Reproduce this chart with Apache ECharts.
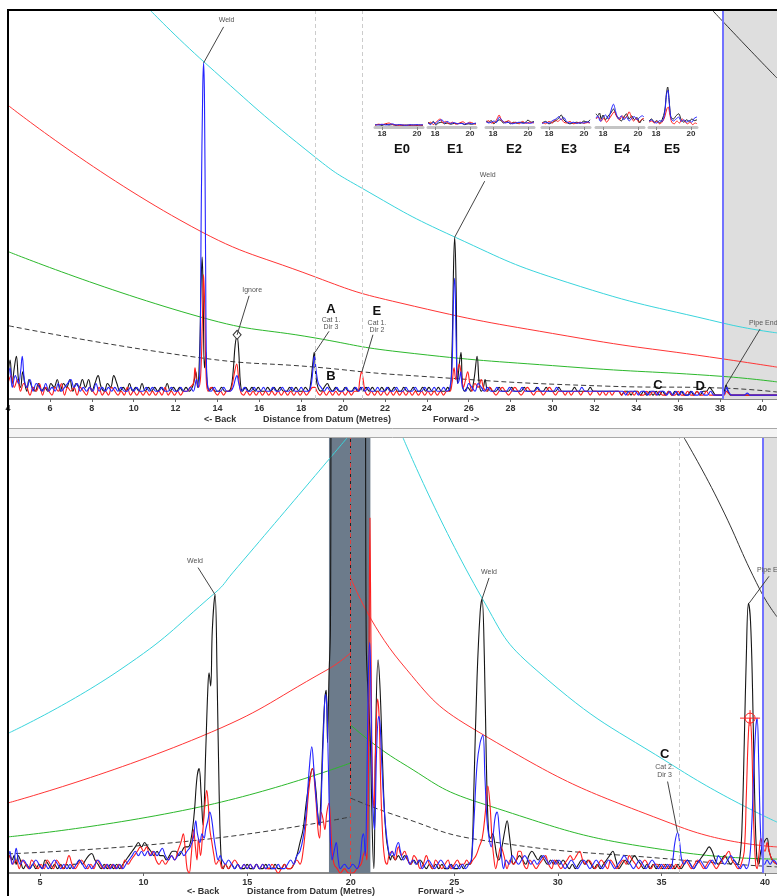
<!DOCTYPE html>
<html><head><meta charset="utf-8">
<script src="https://cdn.jsdelivr.net/npm/echarts@6/dist/echarts.min.js"></script>
<style>html,body{margin:0;padding:0;background:#fff}#c{width:777px;height:896px}</style>
</head><body><div id="c"></div>
<script>
// ---------- tick labels ----------
const topTicks = [4,6,8,10,12,14,16,18,20,22,24,26,28,30,32,34,36,38,40];
const botTicks = [5,10,15,20,25,30,35,40];
const insetTicks = [18,20];
const insetNames = ['E0','E1','E2','E3','E4','E5'];

// ---------- top panel: threshold curves (distance m, amplitude %) ----------
const topCyanDac = [[10.78,100],[13.41,86.4],[18.66,62.2],[20.9,54.2],[25.35,41.6],[30.7,30],[38.15,19.5],[40.72,17]];
const topRedDac = [[4.05,75.3],[12.21,46],[18.66,31.4],[22.72,24.7],[30.7,16.2],[38.15,10.3],[40.72,8.2]];
const topGreenDac = [[4.05,37.8],[13.17,21.1],[18.66,15.7],[22.72,12.1],[30.7,8.3],[38.15,5.8],[40.72,4.4]];
const topDashDac = [[4.05,18.8],[13.17,10.6],[18.66,8.2],[22.72,6.2],[32.6,3.3],[38.15,2.8],[40.72,1.8]];
const topBlackDac = [[37.62,100],[39.2,91],[40.72,82.5]];

// ---------- top panel: signals ----------
const topBlack = [[4.0,6],[4.1,10],[4.2,4],[4.3,8],[4.4,11],[4.5,5],[4.6,3],[4.7,7],[4.8,4],[4.9,2],[5.0,5],[5.15,3],[5.3,2],[5.45,4],[5.6,2],[5.75,3],[5.9,2],[6.05,4],[6.2,3],[6.35,5],[6.5,2],[6.65,4],[6.8,3],[6.95,5],[7.1,2],[7.25,4],[7.4,3],[7.55,5],[7.7,3],[7.85,5],[8.0,2],[8.15,4],[8.3,6],[8.45,3],[8.6,2],[8.75,4],[8.9,3],[9.05,6],[9.2,4],[9.35,2],[9.5,3],[9.65,2],[9.8,4],[9.95,2],[10.1,3],[10.25,2],[10.4,4],[10.55,2],[10.7,3],[10.85,2],[11.0,3],[11.15,2],[11.3,3],[11.45,2],[11.6,4],[11.75,2],[11.9,3],[12.05,2],[12.2,3],[12.35,2],[12.5,3],[12.65,2],[12.8,3],[12.9,5],[12.97,7],[13.05,3],[13.15,12],[13.22,30],[13.27,36.5],[13.32,26],[13.38,8],[13.45,12],[13.5,5],[13.6,2],[13.75,3],[13.9,2],[14.05,2],[14.2,3],[14.35,2],[14.5,2],[14.65,3],[14.75,7],[14.85,14],[14.94,16],[15.02,12],[15.1,4],[15.2,2],[15.35,3],[15.5,2],[15.65,3],[15.8,2],[15.95,3],[16.1,2],[16.25,2],[16.4,3],[16.55,2],[16.7,3],[16.85,2],[17.0,3],[17.15,2],[17.3,2],[17.45,3],[17.6,2],[17.75,3],[17.9,2],[18.05,2],[18.2,3],[18.35,2],[18.45,4],[18.55,9],[18.62,12],[18.7,6],[18.8,3],[18.95,2],[19.1,3],[19.25,4],[19.35,3],[19.5,2],[19.65,3],[19.8,2],[19.95,2],[20.1,3],[20.25,2],[20.4,2],[20.55,3],[20.7,2],[20.85,3],[20.95,2],[21.1,3],[21.25,2],[21.4,3],[21.55,2],[21.7,2],[21.85,3],[22.0,2],[22.15,3],[22.3,2],[22.45,3],[22.6,2],[22.75,2],[22.9,3],[23.05,2],[23.2,2],[23.35,3],[23.5,2],[23.65,2],[23.8,3],[23.95,2],[24.1,3],[24.25,2],[24.4,2],[24.55,3],[24.7,2],[24.85,2],[25.0,3],[25.1,2],[25.2,12],[25.28,35],[25.33,41.6],[25.4,28],[25.46,4],[25.55,9],[25.63,12],[25.7,4],[25.8,2],[25.95,3],[26.1,2],[26.25,5],[26.4,11],[26.5,4],[26.6,2],[26.7,3],[26.78,5],[26.9,2],[27.0,3],[27.15,2],[27.3,2],[27.45,3],[27.6,2],[27.75,2],[27.9,2],[28.05,3],[28.2,2],[28.35,2],[28.5,2],[28.65,3],[28.8,2],[28.95,2],[29.1,2],[29.25,3],[29.4,2],[29.55,2],[29.7,3],[29.85,2],[30.0,2],[30.15,2],[30.3,3],[30.45,2],[30.6,2],[30.75,2],[30.9,2],[31.05,3],[31.2,2],[31.35,2],[31.5,2],[31.65,2],[31.8,3],[31.95,2],[32.1,2],[32.25,2],[32.4,2],[32.55,2],[32.7,2],[32.85,2],[33.0,2],[33.15,2],[33.3,1],[33.45,2],[33.6,2],[33.75,1],[33.9,2],[34.05,2],[34.2,1],[34.35,2],[34.5,1],[34.65,2],[34.8,1],[34.95,2],[35.1,1],[35.25,2],[35.4,1],[35.55,2],[35.7,1],[35.85,2],[36.0,1],[36.15,2],[36.3,1],[36.45,1],[36.6,2],[36.75,1],[36.9,2],[37.05,1],[37.2,2],[37.35,2],[37.5,3],[37.65,2],[37.8,1],[37.95,1],[38.1,1],[38.2,2],[38.29,3.6],[38.38,2],[38.5,1],[38.65,1],[38.8,1],[38.95,1],[39.1,1],[39.25,1],[39.4,1],[39.55,1],[39.7,1],[39.85,1],[40.0,1],[40.15,1],[40.3,1],[40.5,1],[40.72,1]];
const topRed = [[4.0,4],[4.15,6],[4.3,3],[4.45,5],[4.6,2],[4.75,4],[4.9,3],[5.05,1],[5.2,3],[5.35,2],[5.5,4],[5.65,1],[5.8,3],[5.95,2],[6.1,1],[6.25,3],[6.4,2],[6.55,4],[6.7,1],[6.85,3],[7.0,2],[7.15,3],[7.3,1],[7.45,3],[7.6,2],[7.75,1],[7.9,3],[8.05,2],[8.2,1],[8.35,3],[8.5,1],[8.65,2],[8.8,1],[8.95,3],[9.1,2],[9.25,1],[9.4,2],[9.55,1],[9.7,3],[9.85,1],[10.0,2],[10.15,1],[10.3,2],[10.45,1],[10.6,2],[10.75,1],[10.9,2],[11.05,1],[11.2,2],[11.35,1],[11.5,3],[11.65,1],[11.8,2],[11.95,1],[12.1,2],[12.25,1],[12.4,2],[12.55,2],[12.7,3],[12.85,4],[12.93,8],[13.0,5],[13.1,3],[13.2,6],[13.28,20],[13.34,32],[13.4,22],[13.46,6],[13.55,2],[13.7,3],[13.85,2],[14.0,1],[14.15,2],[14.3,1],[14.45,2],[14.6,2],[14.72,4],[14.82,7],[14.92,9],[15.0,6],[15.1,2],[15.25,1],[15.4,2],[15.55,1],[15.7,2],[15.85,1],[16.0,2],[16.15,1],[16.3,2],[16.45,1],[16.6,2],[16.75,1],[16.9,2],[17.05,1],[17.2,2],[17.35,1],[17.5,2],[17.65,1],[17.8,2],[17.95,1],[18.1,2],[18.25,1],[18.4,2],[18.55,3],[18.65,3],[18.75,2],[18.9,1],[19.05,2],[19.2,1],[19.35,2],[19.5,1],[19.65,2],[19.8,1],[19.95,2],[20.1,1],[20.25,2],[20.4,1],[20.55,2],[20.7,2],[20.8,5],[20.88,7],[20.96,5],[21.05,2],[21.2,1],[21.35,2],[21.5,1],[21.65,2],[21.8,1],[21.95,2],[22.1,1],[22.25,2],[22.4,1],[22.55,2],[22.7,1],[22.85,2],[23.0,1],[23.15,2],[23.3,1],[23.45,2],[23.6,1],[23.75,2],[23.9,1],[24.05,2],[24.2,1],[24.35,2],[24.5,1],[24.65,2],[24.8,1],[24.95,2],[25.1,2],[25.2,4],[25.3,8],[25.38,5],[25.46,7],[25.55,9],[25.65,6],[25.75,3],[25.85,5],[25.95,7],[26.05,4],[26.15,2],[26.3,4],[26.45,3],[26.6,5],[26.7,3],[26.85,2],[27.0,3],[27.15,2],[27.3,1],[27.45,2],[27.6,3],[27.75,2],[27.9,1],[28.05,2],[28.2,3],[28.35,2],[28.5,1],[28.65,2],[28.8,3],[28.95,2],[29.1,1],[29.25,2],[29.4,2],[29.55,1],[29.7,2],[29.85,3],[30.0,2],[30.15,1],[30.3,2],[30.45,2],[30.6,1],[30.75,2],[30.9,1],[31.05,2],[31.2,2],[31.35,1],[31.5,2],[31.65,2],[31.8,1],[31.95,2],[32.1,2],[32.25,1],[32.4,2],[32.55,1],[32.7,2],[32.85,1],[33.0,2],[33.15,2],[33.3,1],[33.45,2],[33.6,1],[33.75,2],[33.9,1],[34.05,2],[34.2,1],[34.35,1],[34.5,2],[34.65,1],[34.8,2],[34.95,1],[35.1,2],[35.25,1],[35.4,1],[35.55,2],[35.7,1],[35.85,1],[36.0,2],[36.15,1],[36.3,1],[36.45,2],[36.6,1],[36.75,1],[36.9,2],[37.05,1],[37.2,1],[37.35,2],[37.5,1],[37.65,1],[37.8,1],[37.95,1],[38.1,1],[38.2,1],[38.3,2],[38.4,1.5],[38.55,1],[38.7,1],[38.85,1],[39.0,1],[39.2,1],[39.4,1],[39.6,1],[39.8,1],[40.0,1],[40.2,1],[40.4,1],[40.72,1]];
const topBlue = [[4.0,5],[4.1,8],[4.2,3],[4.35,6],[4.5,4],[4.6,7],[4.68,11],[4.78,5],[4.9,3],[5.05,5],[5.2,2],[5.35,4],[5.5,3],[5.65,2],[5.8,4],[5.95,2],[6.1,3],[6.25,2],[6.4,4],[6.55,2],[6.7,3],[6.85,4],[7.0,5],[7.15,3],[7.3,4],[7.45,2],[7.6,3],[7.75,2],[7.9,3],[8.05,2],[8.2,4],[8.35,2],[8.5,3],[8.65,2],[8.8,3],[8.95,2],[9.1,3],[9.25,2],[9.4,3],[9.55,2],[9.7,2],[9.85,3],[10.0,2],[10.15,3],[10.3,2],[10.45,2],[10.6,3],[10.75,2],[10.9,3],[11.05,2],[11.2,2],[11.35,3],[11.5,2],[11.65,2],[11.8,3],[11.95,2],[12.1,2],[12.25,3],[12.4,2],[12.55,2],[12.7,3],[12.85,2],[13.0,5],[13.08,3],[13.16,8],[13.23,50],[13.3,80],[13.34,86.4],[13.38,78],[13.43,40],[13.48,8],[13.55,3],[13.7,2],[13.85,3],[14.0,2],[14.15,2],[14.3,3],[14.45,2],[14.6,2],[14.75,3],[14.85,5],[14.93,6],[15.02,4],[15.15,2],[15.3,3],[15.45,2],[15.6,2],[15.75,3],[15.9,2],[16.05,2],[16.2,3],[16.35,2],[16.5,2],[16.65,3],[16.8,2],[16.95,2],[17.1,3],[17.25,2],[17.4,2],[17.55,3],[17.7,2],[17.85,2],[18.0,3],[18.15,2],[18.3,2],[18.45,3],[18.55,7],[18.63,11],[18.72,7],[18.82,4],[18.95,3],[19.1,2],[19.25,3],[19.4,2],[19.55,2],[19.7,3],[19.85,2],[20.0,2],[20.15,3],[20.3,2],[20.45,2],[20.6,3],[20.75,2],[20.9,3],[21.05,2],[21.2,3],[21.35,2],[21.5,2],[21.65,3],[21.8,2],[21.95,2],[22.1,3],[22.25,2],[22.4,2],[22.55,3],[22.7,2],[22.85,2],[23.0,3],[23.15,2],[23.3,2],[23.45,3],[23.6,2],[23.75,2],[23.9,3],[24.05,2],[24.2,2],[24.35,3],[24.5,2],[24.65,2],[24.8,3],[24.95,2],[25.1,3],[25.2,8],[25.27,25],[25.33,31],[25.4,15],[25.47,4],[25.55,5],[25.62,7],[25.7,3],[25.85,2],[26.0,4],[26.15,3],[26.3,2],[26.45,4],[26.6,3],[26.75,2],[26.9,3],[27.05,2],[27.2,2],[27.35,3],[27.5,2],[27.65,2],[27.8,2],[27.95,3],[28.1,2],[28.25,2],[28.4,2],[28.55,3],[28.7,2],[28.85,2],[29.0,2],[29.15,2],[29.3,3],[29.45,2],[29.6,2],[29.75,2],[29.9,2],[30.05,2],[30.2,3],[30.35,2],[30.5,2],[30.65,2],[30.8,2],[30.95,2],[31.1,2],[31.25,2],[31.4,3],[31.55,2],[31.7,2],[31.85,2],[32.0,2],[32.15,2],[32.3,2],[32.45,2],[32.6,2],[32.75,2],[32.9,2],[33.05,2],[33.2,2],[33.35,2],[33.5,1],[33.65,2],[33.8,2],[33.95,2],[34.1,1],[34.25,2],[34.4,2],[34.55,1],[34.7,2],[34.85,2],[35.0,1],[35.15,2],[35.3,2],[35.45,1],[35.6,2],[35.75,1],[35.9,2],[36.05,1],[36.2,2],[36.35,1],[36.5,1],[36.65,2],[36.8,1],[36.95,1],[37.1,2],[37.25,1],[37.4,1],[37.55,2],[37.7,1],[37.85,1],[38.0,1],[38.15,1],[38.25,2],[38.32,3],[38.4,2],[38.55,1],[38.7,1],[38.85,1],[39.0,1],[39.15,1],[39.3,1.5],[39.45,1],[39.6,1],[39.8,1],[40.0,1],[40.2,1],[40.4,1],[40.72,1]];

// ---------- bottom panel: threshold curves ----------
const botCyanL = [[3.5,32.2],[8.86,46.7],[13.45,64.4],[14.3,69],[19.82,100]];
const botCyanR = [[22.53,100],[26.34,63.2],[28.95,46.7],[35.9,23.7],[40.58,11.7]];
const botRedL = [[3.455,16.1],[12.73,31.3],[18.86,46.7],[20.0,50.6]];
const botRedR = [[20.0,67.8],[22.4,48.5],[26.25,32.2],[35.9,10.6],[40.58,6]];
const botGreenL = [[3.455,8.3],[12.73,15.2],[20.0,25.3]];
const botGreenR = [[20.0,34],[22.4,25.5],[26.25,16.1],[35.9,4.8],[40.58,3.2]];
const botDashL = [[3.455,4.4],[12.73,7.6],[20.0,12.9]];
const botDashR = [[20.0,17.2],[22.4,12.9],[26.25,7.6],[35.9,3],[40.58,1.4]];
const botBlackDac = [[36.1,100],[37.7,86],[39.77,65],[40.58,58.9]];

// ---------- bottom panel: signals ----------
const botBlack = [[3.45,3],[3.55,4],[3.65,3],[3.75,4],[3.85,2],[3.95,4],[4.05,3],[4.2,1],[4.35,2],[4.5,1],[4.65,2],[4.8,1],[4.95,2],[5.1,1],[5.25,3],[5.4,2],[5.55,1],[5.7,2],[5.85,1],[6.0,2],[6.15,1],[6.3,2],[6.45,1],[6.6,2],[6.75,2],[6.9,3],[7.05,2],[7.2,3],[7.35,4],[7.5,4.5],[7.65,3],[7.8,2],[7.95,1],[8.1,2],[8.25,1],[8.4,2],[8.55,1],[8.7,2],[8.85,1],[9.0,2],[9.15,3],[9.3,4],[9.45,5],[9.6,6],[9.75,7],[9.9,6],[10.05,7],[10.2,6],[10.35,5],[10.5,4],[10.65,5],[10.8,4],[10.95,4],[11.1,3],[11.25,4],[11.4,5],[11.55,5],[11.7,4],[11.85,5],[12.0,6],[12.15,6],[12.3,8],[12.45,14],[12.58,22],[12.68,24],[12.78,18],[12.87,11],[13.0,28],[13.1,42],[13.16,46],[13.24,43],[13.32,56],[13.45,64],[13.55,45],[13.65,18],[13.75,3],[13.85,1],[13.95,2],[14.1,1],[14.25,2],[14.4,1],[14.55,2],[14.7,1],[14.85,1],[15.0,2],[15.15,1],[15.3,1],[15.45,2],[15.6,1],[15.75,1],[15.9,2],[16.05,1],[16.2,1],[16.35,2],[16.5,1],[16.65,1],[16.8,2],[16.95,1],[17.1,1],[17.25,2],[17.4,4],[17.55,7],[17.7,10],[17.85,16],[18.0,21],[18.15,24],[18.3,20],[18.4,14],[18.47,11],[18.55,16],[18.65,30],[18.75,40],[18.82,42],[18.88,30],[18.95,45],[19.02,56],[19.08,130],[20.68,130],[20.75,53],[20.85,40],[20.95,30],[21.05,8],[21.12,1],[21.2,30],[21.32,49],[21.42,42],[21.52,28],[21.62,15],[21.72,8],[21.82,5],[21.92,3],[22.0,4],[22.15,3],[22.3,4],[22.45,3],[22.6,4],[22.75,3],[22.9,2],[23.05,3],[23.2,2],[23.35,3],[23.5,2],[23.65,1],[23.8,2],[23.95,1],[24.1,2],[24.25,1],[24.4,2],[24.55,1],[24.7,1],[24.85,2],[25.0,1],[25.15,1],[25.3,2],[25.45,1],[25.6,2],[25.75,2],[25.85,4],[25.95,20],[26.1,45],[26.25,60],[26.34,63],[26.45,50],[26.55,25],[26.65,10],[26.75,8],[26.85,9],[26.95,7],[27.05,4],[27.15,3],[27.3,6],[27.45,10],[27.55,12],[27.65,9],[27.75,5],[27.85,2],[28.0,3],[28.15,4],[28.3,3],[28.45,2],[28.6,4],[28.75,5],[28.9,4],[29.05,3],[29.2,4],[29.35,3],[29.5,2],[29.65,3],[29.8,2],[29.95,3],[30.1,2],[30.25,3],[30.4,2],[30.55,1],[30.7,2],[30.85,1],[31.0,2],[31.15,3],[31.3,2],[31.45,3],[31.6,2],[31.75,1],[31.9,2],[32.05,1],[32.2,2],[32.35,3],[32.5,4],[32.65,5],[32.8,3],[32.95,1],[33.1,2],[33.25,3],[33.4,2],[33.55,3],[33.7,4],[33.85,3],[34.0,2],[34.15,1],[34.3,2],[34.45,1],[34.6,2],[34.75,1],[34.9,2],[35.05,1],[35.2,2],[35.35,1],[35.5,2],[35.65,1],[35.8,2],[35.95,1],[36.1,2],[36.25,3],[36.4,2],[36.55,1],[36.7,2],[36.85,3],[37.0,4],[37.15,5],[37.3,6],[37.45,5],[37.6,3],[37.75,2],[37.9,3],[38.05,4],[38.2,3],[38.35,2],[38.5,3],[38.65,2],[38.8,4],[38.9,12],[39.0,30],[39.1,50],[39.2,62],[39.3,58],[39.4,42],[39.5,18],[39.6,4],[39.7,2],[39.8,5],[39.95,7],[40.1,8],[40.2,5],[40.35,3],[40.58,2]];
const botRed = [[3.45,2],[3.55,4],[3.7,2],[3.85,3],[4.0,1],[4.15,3],[4.3,2],[4.45,1],[4.6,3],[4.75,2],[4.9,1],[5.05,2],[5.2,1],[5.35,3],[5.5,2],[5.65,1],[5.8,3],[5.95,2],[6.1,1],[6.25,2],[6.4,4],[6.55,2],[6.7,1],[6.85,2],[7.0,3],[7.15,2],[7.3,1],[7.45,2],[7.6,1],[7.75,3],[7.9,2],[8.05,1],[8.2,2],[8.35,1],[8.5,2],[8.65,1],[8.8,2],[8.95,1],[9.1,3],[9.25,2],[9.4,3],[9.55,4],[9.7,5],[9.85,6],[10.0,5],[10.15,6],[10.3,4],[10.45,5],[10.6,3],[10.75,2],[10.9,3],[11.05,2],[11.2,3],[11.35,4],[11.5,3],[11.65,5],[11.8,7],[11.92,9],[12.0,6],[12.1,1],[12.2,0],[12.3,4],[12.42,10],[12.5,6],[12.58,3],[12.65,8],[12.75,4],[12.85,9],[12.95,15],[13.05,19],[13.12,16],[13.2,10],[13.3,7],[13.4,4],[13.5,2],[13.65,3],[13.8,1],[13.95,2],[14.1,1],[14.25,2],[14.4,3],[14.55,2],[14.7,1],[14.85,2],[15.0,1],[15.15,2],[15.3,1],[15.45,2],[15.6,1],[15.75,2],[15.9,1],[16.05,1],[16.2,2],[16.35,1],[16.5,0],[16.65,1],[16.8,2],[16.95,1],[17.1,1],[17.25,2],[17.4,3],[17.55,2],[17.7,5],[17.85,12],[18.0,20],[18.15,24],[18.3,18],[18.42,10],[18.5,8],[18.58,14],[18.68,12],[18.75,10],[18.85,14],[18.95,16],[19.02,12],[19.1,5],[19.2,2],[19.35,1],[19.5,0],[19.7,1],[19.9,0],[20.1,0],[20.3,1],[20.5,2],[20.6,4],[20.7,5],[20.78,3],[20.85,20],[20.93,81.6],[21.0,40],[21.06,20],[21.12,15],[21.2,28],[21.3,40],[21.38,35],[21.45,20],[21.55,8],[21.65,3],[21.75,2],[21.85,4],[22.0,5],[22.15,3],[22.3,6],[22.45,4],[22.6,5],[22.75,3],[22.9,2],[23.05,4],[23.2,3],[23.35,1],[23.5,2],[23.65,4],[23.8,2],[23.95,1],[24.1,3],[24.25,2],[24.4,1],[24.55,2],[24.7,3],[24.85,1],[25.0,2],[25.15,3],[25.3,2],[25.45,2],[25.6,3],[25.75,2],[25.9,3],[26.05,4],[26.2,6],[26.35,8],[26.5,14],[26.62,20],[26.72,16],[26.82,8],[26.92,3],[27.0,1],[27.1,3],[27.25,6],[27.4,4],[27.55,1],[27.7,3],[27.85,2],[28.0,3],[28.1,5],[28.2,5],[28.35,2],[28.5,1],[28.65,3],[28.8,2],[28.95,1],[29.1,2],[29.25,3],[29.4,4],[29.55,2],[29.7,1],[29.85,3],[30.0,2],[30.15,1],[30.3,2],[30.45,3],[30.6,4],[30.75,3],[30.9,4],[31.05,5],[31.2,3],[31.35,2],[31.5,3],[31.65,2],[31.8,1],[31.95,2],[32.1,3],[32.25,2],[32.4,1],[32.55,3],[32.7,2],[32.85,1],[33.0,2],[33.15,3],[33.3,2],[33.45,4],[33.6,3],[33.75,2],[33.9,1],[34.05,2],[34.2,3],[34.35,2],[34.5,1],[34.65,2],[34.8,2],[34.95,1],[35.1,2],[35.25,1],[35.4,2],[35.55,1],[35.7,2],[35.85,1],[36.0,2],[36.15,3],[36.3,2],[36.45,1],[36.6,2],[36.75,3],[36.9,2],[37.05,1],[37.2,2],[37.35,3],[37.5,2],[37.65,1],[37.8,2],[37.95,3],[38.1,4],[38.25,5],[38.4,3],[38.55,2],[38.7,1],[38.85,2],[39.0,5],[39.1,18],[39.2,32],[39.28,35.6],[39.36,30],[39.45,12],[39.55,2],[39.62,1],[39.7,4],[39.8,8],[39.9,6],[40.0,5],[40.1,7],[40.2,5],[40.35,3],[40.58,2]];
const botBlue = [[3.45,3],[3.55,5],[3.65,2],[3.75,3],[3.85,5.7],[3.95,3],[4.05,2],[4.2,3],[4.35,2],[4.5,1],[4.65,2],[4.8,3],[4.95,2],[5.1,1],[5.25,2],[5.4,1],[5.55,2],[5.7,3],[5.85,2],[6.0,1],[6.15,2],[6.3,1],[6.45,2],[6.6,1],[6.75,2],[6.9,3],[7.05,2],[7.2,1],[7.35,2],[7.5,1],[7.65,2],[7.8,3],[7.95,2],[8.1,1],[8.25,2],[8.4,1],[8.55,2],[8.7,1],[8.85,2],[9.0,1],[9.15,2],[9.3,3],[9.45,4],[9.6,5],[9.75,4],[9.9,5],[10.05,4],[10.2,5],[10.35,4],[10.5,5],[10.65,4],[10.8,5],[10.9,5.7],[11.05,4],[11.2,3],[11.35,4],[11.5,3],[11.65,4],[11.8,5],[11.95,4],[12.1,5],[12.25,6],[12.4,8],[12.52,12],[12.6,9],[12.72,7],[12.82,9],[12.92,8],[13.0,10],[13.1,12],[13.2,14],[13.3,12],[13.4,8],[13.5,5],[13.6,3],[13.7,4],[13.8,3],[13.95,2],[14.1,3],[14.25,2],[14.4,1],[14.55,2],[14.7,1],[14.85,2],[15.0,1],[15.15,2],[15.3,1],[15.45,2],[15.6,1],[15.75,2],[15.9,1],[16.05,2],[16.2,1],[16.35,1],[16.5,2],[16.65,1],[16.8,1],[16.95,2],[17.1,3],[17.25,2],[17.4,4],[17.55,5],[17.7,8],[17.85,14],[18.0,24],[18.12,29],[18.22,24],[18.35,16],[18.45,12],[18.52,11],[18.6,20],[18.7,34],[18.78,41],[18.85,38],[18.92,25],[19.0,10],[19.1,3],[19.2,5],[19.3,7],[19.4,3],[19.5,1],[19.7,2],[19.9,1],[20.1,2],[20.3,1],[20.45,3],[20.55,8],[20.62,9],[20.7,4],[20.78,20],[20.85,45],[20.92,53],[20.98,40],[21.05,18],[21.15,10],[21.25,28],[21.35,36],[21.42,34],[21.5,25],[21.6,16],[21.7,10],[21.8,6],[21.9,4],[22.0,5],[22.1,4],[22.2,6],[22.3,7],[22.4,5],[22.55,3],[22.7,4],[22.85,2],[23.0,3],[23.15,2],[23.3,3],[23.45,1],[23.6,2],[23.75,3],[23.9,2],[24.05,1],[24.2,2],[24.35,3],[24.5,2],[24.65,1],[24.8,2],[24.95,1],[25.1,2],[25.25,1],[25.4,2],[25.55,1],[25.7,2],[25.82,3],[25.95,12],[26.1,25],[26.25,30],[26.38,31.7],[26.48,22],[26.58,12],[26.68,8],[26.78,6],[26.88,9],[26.98,13],[27.07,14],[27.17,10],[27.28,4],[27.38,1],[27.5,3],[27.65,2],[27.8,4],[27.95,3],[28.1,2],[28.25,3],[28.4,4],[28.55,3],[28.7,2],[28.85,3],[29.0,2],[29.15,3],[29.3,4],[29.45,3],[29.6,2],[29.75,3],[29.9,2],[30.05,3],[30.2,2],[30.35,1],[30.5,2],[30.65,3],[30.8,2],[30.95,1],[31.1,2],[31.25,3],[31.4,2],[31.55,1],[31.7,2],[31.85,3],[32.0,2],[32.15,1],[32.3,2],[32.45,3],[32.6,2],[32.75,1],[32.9,2],[33.05,3],[33.2,4],[33.35,3],[33.5,2],[33.65,1],[33.8,2],[33.95,3],[34.1,2],[34.25,1],[34.4,2],[34.55,3],[34.7,2],[34.85,1],[35.0,2],[35.15,1],[35.3,2],[35.45,1],[35.55,3],[35.65,7],[35.78,9.3],[35.88,7],[35.98,3],[36.1,2],[36.25,3],[36.4,2],[36.55,1],[36.7,2],[36.85,3],[37.0,2],[37.15,1],[37.3,2],[37.45,3],[37.6,2],[37.75,4],[37.9,3],[38.05,2],[38.2,3],[38.35,4],[38.5,3],[38.65,2],[38.8,1],[38.95,2],[39.1,1],[39.25,3],[39.35,10],[39.45,22],[39.55,33],[39.62,35.6],[39.7,25],[39.78,10],[39.88,3],[39.98,2],[40.1,3],[40.25,2],[40.4,3],[40.58,2]];

// ---------- inset traces (E0..E5), distance m / relative amplitude ----------
const e0Black = [[17.6,5],[17.8,6],[18.0,4],[18.2,7],[18.4,5],[18.6,6],[18.8,4],[19.0,5],[19.2,4],[19.4,5],[19.6,4],[19.8,5],[20.0,4],[20.2,5],[20.35,4]];
const e0Red = [[17.6,4],[17.8,7],[18.0,6],[18.2,8],[18.4,10],[18.6,6],[18.8,5],[19.0,4],[19.2,5],[19.4,4],[19.6,5],[19.8,4],[20.0,5],[20.2,4],[20.35,5]];
const e0Blue = [[17.6,6],[17.8,5],[18.0,7],[18.2,5],[18.4,6],[18.6,8],[18.8,5],[19.0,6],[19.2,5],[19.4,4],[19.6,6],[19.8,5],[20.0,6],[20.2,5],[20.35,6]];
const e1Black = [[17.6,12],[17.75,8],[17.9,14],[18.05,5],[18.2,10],[18.4,12],[18.55,8],[18.7,10],[18.9,7],[19.1,9],[19.3,8],[19.5,10],[19.7,6],[19.9,8],[20.1,7],[20.35,9]];
const e1Red = [[17.6,8],[17.75,12],[17.9,6],[18.1,14],[18.3,20],[18.45,10],[18.6,14],[18.8,8],[19.0,12],[19.2,7],[19.4,10],[19.6,13],[19.8,8],[20.0,12],[20.2,9],[20.35,6]];
const e1Blue = [[17.6,10],[17.75,6],[17.9,12],[18.05,8],[18.2,15],[18.4,18],[18.55,10],[18.7,14],[18.9,9],[19.1,11],[19.3,8],[19.5,9],[19.7,7],[19.9,10],[20.1,8],[20.35,10]];
const e2Black = [[17.6,15],[17.75,12],[17.9,16],[18.05,8],[18.2,14],[18.4,18],[18.6,10],[18.8,14],[19.0,8],[19.2,12],[19.4,9],[19.6,12],[19.8,10],[20.0,17],[20.2,12],[20.35,14]];
const e2Red = [[17.6,12],[17.75,16],[17.9,10],[18.1,12],[18.25,22],[18.35,30],[18.5,16],[18.7,12],[18.9,16],[19.1,9],[19.3,12],[19.5,8],[19.7,14],[19.9,9],[20.1,12],[20.35,10]];
const e2Blue = [[17.6,14],[17.75,10],[17.9,12],[18.05,15],[18.2,11],[18.35,24],[18.5,18],[18.7,10],[18.9,12],[19.1,8],[19.3,10],[19.5,12],[19.7,9],[19.9,11],[20.1,9],[20.35,12]];
const e3Black = [[17.6,10],[17.8,14],[18.0,8],[18.2,12],[18.4,16],[18.55,22],[18.7,30],[18.85,18],[19.0,12],[19.2,8],[19.4,10],[19.6,12],[19.8,9],[20.0,15],[20.2,12],[20.35,18]];
const e3Red = [[17.6,12],[17.8,8],[18.0,14],[18.2,10],[18.35,18],[18.5,14],[18.7,20],[18.85,12],[19.0,10],[19.2,14],[19.4,8],[19.6,10],[19.8,12],[20.0,9],[20.2,11],[20.35,10]];
const e3Blue = [[17.6,8],[17.8,12],[18.0,10],[18.2,16],[18.4,20],[18.55,26],[18.7,18],[18.85,24],[19.0,14],[19.2,10],[19.4,12],[19.6,9],[19.8,11],[20.0,10],[20.2,13],[20.35,11]];
const e4Black = [[17.6,33],[17.7,28],[17.8,35],[17.9,20],[18.0,30],[18.15,18],[18.3,28],[18.45,35],[18.6,45],[18.75,30],[18.9,22],[19.05,15],[19.2,25],[19.35,33],[19.5,20],[19.65,28],[19.8,18],[19.95,24],[20.1,10],[20.25,20],[20.35,15]];
const e4Red = [[17.6,20],[17.75,25],[17.9,15],[18.05,22],[18.2,12],[18.35,20],[18.5,30],[18.65,38],[18.8,25],[18.95,18],[19.1,28],[19.25,22],[19.4,30],[19.5,38],[19.6,28],[19.75,15],[19.9,22],[20.05,12],[20.2,18],[20.35,22]];
const e4Blue = [[17.6,22],[17.7,28],[17.85,14],[18.0,24],[18.15,30],[18.3,20],[18.45,40],[18.6,57],[18.75,35],[18.9,20],[19.05,28],[19.2,18],[19.35,25],[19.5,15],[19.65,22],[19.8,26],[19.95,18],[20.1,24],[20.25,28],[20.35,25]];
const e5Black = [[17.6,15],[17.75,20],[17.9,12],[18.05,16],[18.2,10],[18.35,18],[18.5,40],[18.6,85],[18.67,100],[18.75,70],[18.85,25],[19.0,20],[19.15,28],[19.3,33],[19.45,18],[19.6,12],[19.75,18],[19.9,14],[20.05,20],[20.2,16],[20.35,18]];
const e5Red = [[17.6,12],[17.75,15],[17.9,10],[18.05,14],[18.2,8],[18.35,12],[18.5,25],[18.62,45],[18.7,50],[18.8,30],[18.9,12],[19.05,8],[19.2,15],[19.35,10],[19.5,20],[19.65,14],[19.8,8],[19.95,12],[20.1,6],[20.25,10],[20.35,8]];
const e5Blue = [[17.6,14],[17.75,18],[17.9,12],[18.05,10],[18.2,16],[18.35,14],[18.5,35],[18.6,80],[18.68,92],[18.76,60],[18.86,22],[19.0,15],[19.15,20],[19.3,25],[19.45,14],[19.6,18],[19.75,12],[19.9,16],[20.05,12],[20.2,22],[20.35,25]];
const insetTraces = [[e0Black,e0Red,e0Blue],[e1Black,e1Red,e1Blue],[e2Black,e2Red,e2Blue],[e3Black,e3Red,e3Blue],[e4Black,e4Red,e4Blue],[e5Black,e5Red,e5Blue]];

// ---------- annotations ----------
const topNotes = [
  {at:[13.34,86.4], lines:[{t:'Weld',dx:23,dy:-43}], lead:[20,-36]},
  {at:[14.94,16.5], lines:[{t:'Ignore',dx:15,dy:-45}], lead:[12,-39]},
  {at:[18.66,12], lines:[{t:'A',dx:16,dy:-43,big:true},{t:'Cat 1.',dx:16,dy:-32},{t:'Dir 3',dx:16,dy:-25}], lead:[14,-21]},
  {at:[20.9,7], lines:[{t:'E',dx:15,dy:-60,big:true},{t:'Cat 1.',dx:15,dy:-49},{t:'Dir 2',dx:15,dy:-42}], lead:[11,-37]},
  {at:[25.33,41.6], lines:[{t:'Weld',dx:33,dy:-62}], lead:[30,-56]},
  {at:[38.29,3.6], lines:[{t:'Pipe End',dx:23,dy:-62,left:true}], lead:[34,-56]}
];
const topTags = [{t:'B',at:[19.42,5.9]},{t:'C',at:[35.04,3.6]},{t:'D',at:[37.05,3.3]}];
const botNotes = [
  {at:[13.45,64], lines:[{t:'Weld',dx:-20,dy:-34}], lead:[-17,-27]},
  {at:[26.34,63], lines:[{t:'Weld',dx:7,dy:-27}], lead:[7,-21]},
  {at:[35.78,9.3], lines:[{t:'C',dx:-13,dy:-78,big:true},{t:'Cat 2.',dx:-13,dy:-65},{t:'Dir 3',dx:-13,dy:-57}], lead:[-10,-51]},
  {at:[39.23,62], lines:[{t:'Pipe End',dx:8,dy:-33,left:true}], lead:[20,-27]}
];
const botCross = [39.28,35.6];

// ---------- build ----------
const FONT = '"Liberation Sans", Arial, sans-serif';
const chart = echarts.init(document.getElementById('c'), null, {renderer:'canvas'});

function ln(data, color, gi, extra) {
  return Object.assign({type:'line', data:data, xAxisIndex:gi, yAxisIndex:gi, symbol:'none', showSymbol:false,
    lineStyle:{color:color, width:1.1}, itemStyle:{color:color}, smooth:0.4, animation:false, silent:true}, extra||{});
}
function dac(data, color, gi, extra) {
  return ln(data, color, gi, Object.assign({smooth:0.5, lineStyle:{color:color, width:1}}, extra||{}));
}
const CY='#3ad4dc', RD='#ff3535', GR='#2cb82c', DS='#3a3a3a';
const SB='#161616', SR='#ff1e1e', SU='#2424ff';

const grids = [
  {left:8, top:10, width:769, height:389, outerBoundsMode:'none', containLabel:false},
  {left:8, top:438, width:769, height:435, outerBoundsMode:'none', containLabel:false}
];
const insetLefts = [375,428,486,542,596,649];
insetLefts.forEach(l => grids.push({left:l, top:87, width:48, height:40, outerBoundsMode:'none', containLabel:false}));

function mainX(gi, min, max, ticks, margin) {
  return {gridIndex:gi, type:'value', min:min, max:max,
    axisLine:{show:true, onZero:false, lineStyle:{color:'#666', width:1.5}},
    axisTick:{show:true, customValues:ticks, length:3, lineStyle:{color:'#666'}},
    axisLabel:{customValues:ticks, fontSize:9, fontWeight:'bold', color:'#333', margin:margin, fontFamily:FONT},
    splitLine:{show:false}};
}
const xAxes = [mainX(0,4,40.72,topTicks,5), mainX(1,3.455,40.58,botTicks,5)];
const yAxes = [{gridIndex:0,type:'value',min:0,max:100,show:false},{gridIndex:1,type:'value',min:0,max:100,show:false}];
insetLefts.forEach((l,i) => {
  xAxes.push({gridIndex:i+2, type:'value', min:17.6, max:20.35,
    axisLine:{show:true, onZero:false, lineStyle:{color:'#c4c4c4', width:3}},
    axisTick:{show:true, customValues:insetTicks, length:3, lineStyle:{color:'#888'}},
    axisLabel:{customValues:insetTicks, fontSize:8, fontWeight:'bold', color:'#333', margin:3, fontFamily:FONT},
    splitLine:{show:false}});
  yAxes.push({gridIndex:i+2,type:'value',min:0,max:100,show:false});
});

const series = [];
// top panel
series.push(dac(topCyanDac, CY, 0, {
  markArea:{silent:true, itemStyle:{color:'#dedede'}, data:[[{xAxis:38.15},{xAxis:40.72}]]},
  markLine:{silent:true, symbol:['none','none'], label:{show:false}, animation:false, data:[
    {xAxis:18.66, lineStyle:{color:'#cccccc', type:[4,3], width:1}},
    {xAxis:20.9, lineStyle:{color:'#cccccc', type:[4,3], width:1}},
    {xAxis:38.15, lineStyle:{color:'#7272ff', type:'solid', width:2}}
  ]}
}));
series.push(dac(topRedDac, RD, 0));
series.push(dac(topGreenDac, GR, 0));
series.push(dac(topDashDac, DS, 0, {lineStyle:{color:DS, width:1, type:[5,3]}}));
series.push(dac(topBlackDac, '#333', 0));
series.push(ln(topBlack, SB, 0, {markPoint:{silent:true, animation:false, symbol:'diamond', symbolSize:[8,9], label:{show:false},
  itemStyle:{color:'#fff', borderColor:'#333', borderWidth:1}, data:[{coord:[14.94,16.5]}]}}));
series.push(ln(topRed, SR, 0));
series.push(ln(topBlue, SU, 0));
// bottom panel
series.push(dac(botCyanL, CY, 1, {
  markArea:{silent:true, data:[
    [{xAxis:18.95, itemStyle:{color:'#6c7b8b'}},{xAxis:20.95}],
    [{xAxis:39.91, itemStyle:{color:'#dedede'}},{xAxis:40.58}]
  ]},
  markLine:{silent:true, symbol:['none','none'], label:{show:false}, animation:false, data:[
    {xAxis:35.86, lineStyle:{color:'#cccccc', type:[4,3], width:1}},
    {xAxis:39.91, lineStyle:{color:'#7272ff', type:'solid', width:2}},
    [{coord:[20,100], lineStyle:{color:'#222', type:[4,2], width:1}},{coord:[20,17.2]}],
    {xAxis:20, lineStyle:{color:'#e04040', type:[4,3], width:1}}
  ]}
}));
series.push(dac(botCyanR, CY, 1));
series.push(dac(botRedL, RD, 1));
series.push(dac(botRedR, RD, 1));
series.push(dac(botGreenL, GR, 1));
series.push(dac(botGreenR, GR, 1));
series.push(dac(botDashL, DS, 1, {lineStyle:{color:DS, width:1, type:[5,3]}}));
series.push(dac(botDashR, DS, 1, {lineStyle:{color:DS, width:1, type:[5,3]}}));
series.push(dac(botBlackDac, '#333', 1));
series.push(ln(botBlack, SB, 1));
series.push(ln(botRed, SR, 1));
series.push(ln(botBlue, SU, 1));
// insets
insetTraces.forEach((tr,i) => {
  series.push(ln(tr[0], SB, i+2, {smooth:0.3, lineStyle:{color:SB, width:1}}));
  series.push(ln(tr[1], SR, i+2, {smooth:0.3, lineStyle:{color:SR, width:1}}));
  series.push(ln(tr[2], SU, i+2, {smooth:0.3, lineStyle:{color:SU, width:1}}));
});

chart.setOption({animation:false, backgroundColor:'#ffffff', grid:grids, xAxis:xAxes, yAxis:yAxes, series:series});

// ---------- graphics (frame, titles, annotations) ----------
const G = [];
function txt(x,y,t,font,fill,align){ G.push({type:'text', x:x, y:y, silent:true, z:100, style:{text:t, font:font, fill:fill||'#333', textAlign:align||'center', textVerticalAlign:'middle'}}); }
function seg(x1,y1,x2,y2,stroke,w){ G.push({type:'line', silent:true, z:100, shape:{x1:x1,y1:y1,x2:x2,y2:y2}, style:{stroke:stroke, lineWidth:w||1}}); }

// panel separator & frame
G.push({type:'rect', silent:true, z:90, shape:{x:8,y:428,width:769,height:9}, style:{fill:'#f3f3f3', stroke:null}});
seg(8,428.5,777,428.5,'#a8a8a8',1);
seg(8,437.5,777,437.5,'#a8a8a8',1);
seg(7,10,777,10,'#000',2);
seg(8,9,8,896,'#000',2);

// axis titles
const tf = 'bold 9px ' + FONT;
txt(204,420,'<- Back',tf,'#333','left');
txt(263,420,'Distance from Datum (Metres)',tf,'#333','left');
txt(433,420,'Forward ->',tf,'#333','left');
txt(187,892,'<- Back',tf,'#333','left');
txt(247,892,'Distance from Datum (Metres)',tf,'#333','left');
txt(418,892,'Forward ->',tf,'#333','left');

// inset names
const insetCenters = [402,455,514,569,622,672];
insetNames.forEach((n,i) => txt(insetCenters[i],149,n,'bold 13px ' + FONT,'#111','center'));

function notes(list, gi) {
  list.forEach(n => {
    const p = chart.convertToPixel({xAxisIndex:gi, yAxisIndex:gi}, n.at);
    seg(p[0]+n.lead[0], p[1]+n.lead[1], p[0], p[1], '#444', 1);
    n.lines.forEach(l => {
      if (l.big) txt(p[0]+l.dx, p[1]+l.dy, l.t, 'bold 13px ' + FONT, '#111', 'center');
      else txt(p[0]+l.dx, p[1]+l.dy, l.t, '7px ' + FONT, '#555', l.left ? 'left' : 'center');
    });
  });
}
notes(topNotes, 0);
notes(botNotes, 1);
topTags.forEach(t => {
  const p = chart.convertToPixel({xAxisIndex:0, yAxisIndex:0}, t.at);
  txt(p[0], p[1], t.t, 'bold 13px ' + FONT, '#111', 'center');
});
const cp = chart.convertToPixel({xAxisIndex:1, yAxisIndex:1}, botCross);
G.push({type:'circle', silent:true, z:100, shape:{cx:cp[0], cy:cp[1], r:5}, style:{fill:null, stroke:'#ff2020', lineWidth:1}});
seg(cp[0]-10, cp[1], cp[0]+10, cp[1], '#ff2020', 1);
seg(cp[0], cp[1]-8, cp[0], cp[1]+8, '#ff2020', 1);

chart.setOption({graphic:{elements:G}});
</script></body></html>
